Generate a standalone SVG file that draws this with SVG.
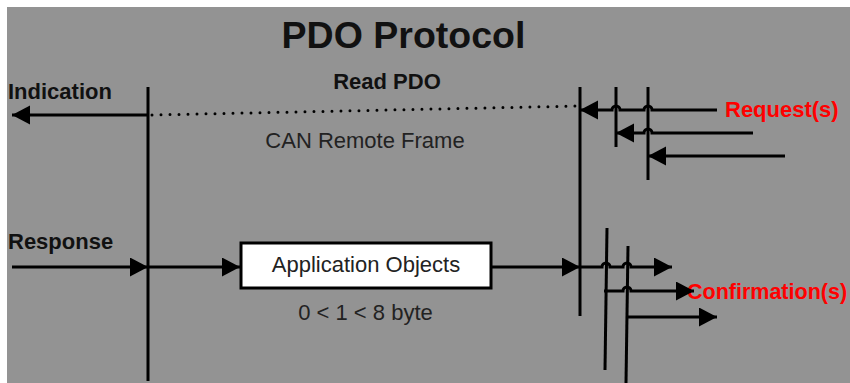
<svg xmlns="http://www.w3.org/2000/svg" width="850" height="383" viewBox="0 0 850 383">
<defs>
<marker id="ah" markerUnits="userSpaceOnUse" markerWidth="19" markerHeight="20" refX="18" refY="9.5" orient="auto">
<path d="M0,0 L18,9.5 L0,19 Z" fill="#000"/>
</marker>
<style>
.ln{stroke:#000;stroke-width:3;fill:none}
.ar{stroke:#000;stroke-width:3;fill:none;marker-end:url(#ah)}
.dot{stroke:#000;stroke-width:3;fill:none;stroke-linecap:round;stroke-dasharray:0 9}
.b{font-family:"Liberation Sans",Arial,sans-serif;font-weight:bold;fill:#111}
.r{font-family:"Liberation Sans",Arial,sans-serif;fill:#222}
.red{font-family:"Liberation Sans",Arial,sans-serif;font-weight:bold;fill:#ff0000}
</style>
</defs>
<rect x="0" y="0" width="850" height="383" fill="#fff"/>
<rect x="7" y="7" width="843" height="376" fill="#939393"/>

<g id="title">
<text class="b" x="403.5" y="48" font-size="37.5" text-anchor="middle">PDO Protocol</text>
</g>
<g id="labels">
<text class="b" x="387" y="89" font-size="22" text-anchor="middle">Read PDO</text>
<text class="r" x="365" y="148" font-size="22" text-anchor="middle">CAN Remote Frame</text>
<text class="b" x="8" y="99" font-size="22">Indication</text>
<text class="b" x="8" y="249" font-size="22">Response</text>
<text class="r" x="365.5" y="320" font-size="22" text-anchor="middle">0 &lt; 1 &lt; 8 byte</text>
<text class="red" x="725" y="117" font-size="22">Request(s)</text>
<text class="red" x="687" y="299" font-size="21.5">Confirmation(s)</text>
</g>

<g id="app-objects">
<rect x="241" y="243" width="250" height="45" fill="#fff" stroke="#000" stroke-width="3"/>
<text class="r" x="366" y="272" font-size="22" text-anchor="middle">Application Objects</text>
</g>

<g id="lifelines">
<line class="ln" x1="148" y1="87" x2="148" y2="381"/>
<line class="ln" x1="580" y1="87" x2="580" y2="316"/>
<line class="ln" x1="616" y1="87" x2="616" y2="147"/>
<line class="ln" x1="648" y1="87" x2="648" y2="180"/>
<line class="ln" x1="607" y1="228" x2="605" y2="370"/>
<line class="ln" x1="628" y1="246" x2="626" y2="383"/>
</g>

<g id="connectors">
<path class="ar" d="M148,115 H12"/>
<path class="dot" d="M152,115 L578,106"/>
<path class="ar" d="M717,110 H652 A4,4 0 0 0 644,110 H620 A4,4 0 0 0 612,110 H580"/>
<path class="ar" d="M753,133 H652 A4,4 0 0 0 644,133 H616"/>
<path class="ar" d="M785,156 H648"/>
<path class="ar" d="M12,267 H148"/>
<path class="ar" d="M148,267 H240"/>
<path class="ar" d="M492,267 H580"/>
<path class="ar" d="M580,267 H602 A4,4 0 0 1 610,267 H623 A4,4 0 0 1 631,267 H672"/>
<path class="ar" d="M604,291 H623 A4,4 0 0 1 631,291 H694"/>
<path class="ar" d="M627,317 H717"/>
</g>
</svg>
